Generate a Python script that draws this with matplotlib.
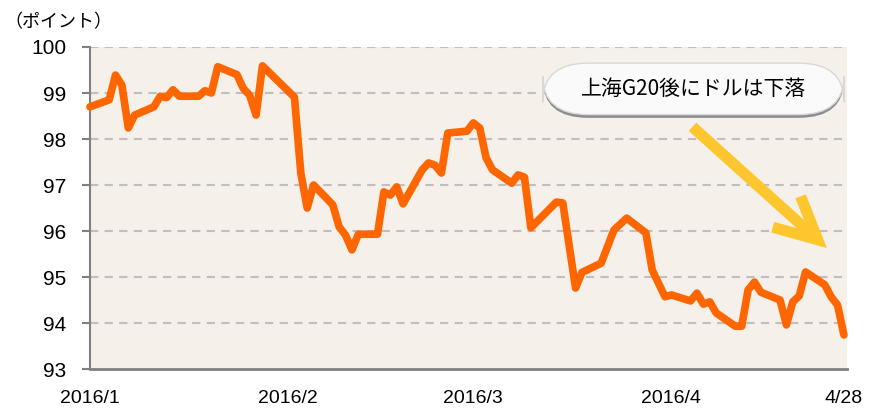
import matplotlib.pyplot as plt
import pandas as pd
from matplotlib.patches import FancyBboxPatch

# ドルインデックス (2016/1/1 - 4/28)
dates = ["2016-01-01", "2016-01-04", "2016-01-05", "2016-01-06", "2016-01-07",
         "2016-01-08", "2016-01-11", "2016-01-12", "2016-01-13", "2016-01-14",
         "2016-01-15", "2016-01-18", "2016-01-19", "2016-01-20", "2016-01-21",
         "2016-01-24", "2016-01-25", "2016-01-26", "2016-01-27", "2016-01-28",
         "2016-02-02", "2016-02-03", "2016-02-04", "2016-02-05", "2016-02-08",
         "2016-02-09", "2016-02-10", "2016-02-11", "2016-02-12", "2016-02-15",
         "2016-02-16", "2016-02-17", "2016-02-18", "2016-02-19", "2016-02-22",
         "2016-02-23", "2016-02-24", "2016-02-25", "2016-02-26", "2016-02-29",
         "2016-03-01", "2016-03-02", "2016-03-03", "2016-03-04", "2016-03-07",
         "2016-03-08", "2016-03-09", "2016-03-10", "2016-03-14", "2016-03-15",
         "2016-03-17", "2016-03-18", "2016-03-21", "2016-03-23", "2016-03-25",
         "2016-03-28", "2016-03-29", "2016-03-31", "2016-04-01", "2016-04-04",
         "2016-04-05", "2016-04-06", "2016-04-07", "2016-04-08", "2016-04-11",
         "2016-04-12", "2016-04-13", "2016-04-14", "2016-04-15", "2016-04-18",
         "2016-04-19", "2016-04-20", "2016-04-21", "2016-04-22", "2016-04-25",
         "2016-04-26", "2016-04-27", "2016-04-28"]
values = [98.70, 98.85, 99.39, 99.17, 98.24,
          98.52, 98.70, 98.93, 98.90, 99.07,
          98.93, 98.93, 99.05, 99.00, 99.57,
          99.40, 99.10, 98.95, 98.52, 99.59,
          98.91, 97.26, 96.50, 97.00, 96.57,
          96.09, 95.91, 95.59, 95.93, 95.93,
          96.85, 96.78, 96.96, 96.59, 97.33,
          97.48, 97.43, 97.26, 98.13, 98.17,
          98.35, 98.24, 97.59, 97.33, 97.04,
          97.22, 97.17, 96.07, 96.63, 96.61,
          94.76, 95.10, 95.30, 96.02, 96.28,
          95.96, 95.15, 94.57, 94.61, 94.48,
          94.65, 94.41, 94.46, 94.22, 93.93,
          93.93, 94.72, 94.89, 94.67, 94.50,
          93.96, 94.46, 94.59, 95.11, 94.83,
          94.57, 94.39, 93.74]

tick_dates = ["2016-01-01", "2016-02-01", "2016-03-01", "2016-04-01", "2016-04-28"]
tick_labels = ["2016/1", "2016/2", "2016/3", "2016/4", "4/28"]
y_ticks = [93, 94, 95, 96, 97, 98, 99, 100]

plt.rcParams['font.family'] = ['Liberation Sans', 'Noto Sans CJK JP']

x = pd.to_datetime(dates)

fig = plt.figure(figsize=(8.7, 4.13), dpi=100)
ax = fig.add_axes([0.1034, 0.1065, 0.8703, 0.7797])
ax.set_facecolor('#F5F0EA')

for v in y_ticks[1:]:
    ax.axhline(v, color='#BFBFBF', lw=1.5, ls=(0, (4, 3)), zorder=1)

ax.plot(x, values, color='#FF6600', lw=5.5, solid_joinstyle='round',
        solid_capstyle='round', zorder=3, clip_on=False)

ax.set_ylim(93, 100)
ax.set_yticks(y_ticks)
ax.set_xlim(pd.Timestamp("2016-01-01"), pd.Timestamp("2016-04-28 12:00"))
ax.set_xticks(pd.to_datetime(tick_dates))
ax.set_xticklabels(tick_labels)

for s in ['top', 'right']:
    ax.spines[s].set_visible(False)
ax.spines['left'].set_color('#808080')
ax.spines['left'].set_linewidth(1.5)
ax.spines['bottom'].set_color('#808080')
ax.spines['bottom'].set_linewidth(2)

ax.tick_params(axis='y', length=6, width=1.5, color='#808080', pad=11,
               labelsize=15)
ax.tick_params(axis='x', length=0, pad=15, labelsize=14)

fig.text(0.005, 0.935, "（ポイント）", fontsize=13,
         family=['Noto Sans CJK JP', 'DejaVu Sans'])

# annotation box
shadow = FancyBboxPatch((0.598, 0.78), 0.398, 0.16,
                        boxstyle="round,pad=0,rounding_size=0.06",
                        transform=ax.transAxes, facecolor='#8C8C8C',
                        edgecolor='none', clip_on=False, zorder=4,
                        mutation_aspect=2.0)
ax.add_patch(shadow)
box = FancyBboxPatch((0.598, 0.79), 0.398, 0.16,
                     boxstyle="round,pad=0,rounding_size=0.06",
                     transform=ax.transAxes, facecolor='#FAFAFA',
                     edgecolor='#D8D8D8', lw=1, clip_on=False, zorder=5,
                     mutation_aspect=2.0)
ax.add_patch(box)
ax.text(0.797, 0.87, "上海G20後にドルは下落", transform=ax.transAxes,
        ha='center', va='center', fontsize=15, zorder=6,
        family=['Noto Sans CJK JP', 'DejaVu Sans'])

ax.annotate("", xy=(0.976, 0.37), xytext=(0.793, 0.758),
            xycoords='axes fraction', textcoords='axes fraction',
            arrowprops=dict(arrowstyle='->,head_length=1.5,head_width=0.75',
                            mutation_scale=20, color='#FDC62C', lw=8,
                            capstyle='butt', joinstyle='miter'),
            zorder=4)

fig.savefig("out.png", dpi=100)
